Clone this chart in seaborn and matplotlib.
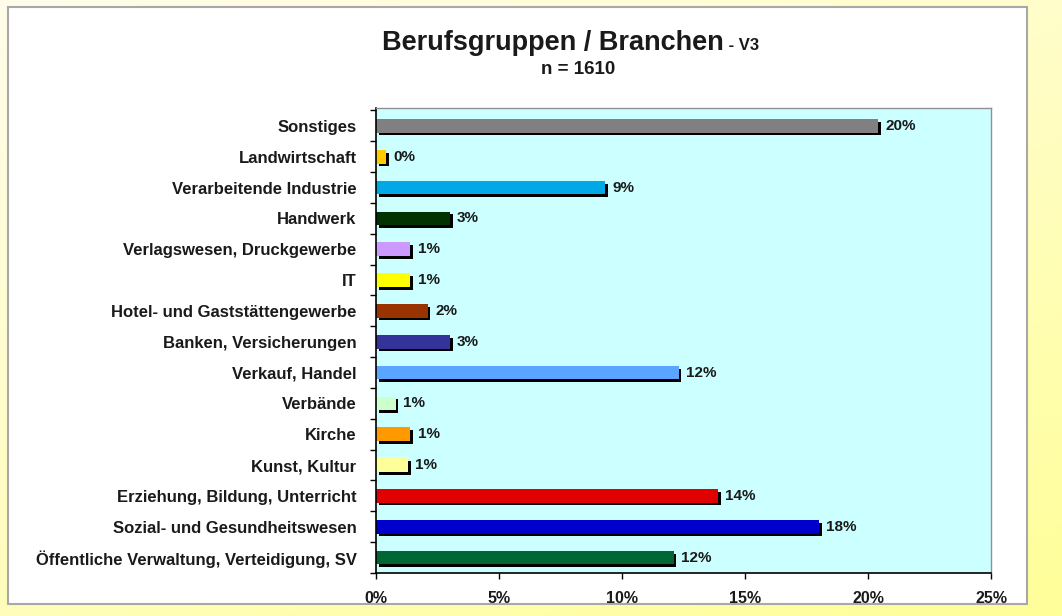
import numpy as np
import matplotlib
matplotlib.use("Agg")
import matplotlib.pyplot as plt
import matplotlib.patheffects as pe
from matplotlib.patches import Rectangle
from matplotlib.ticker import FuncFormatter
import seaborn as sns

# ------------------------------------------------
# Data (percent)
# ------------------------------------------------
categories = [
    "Sonstiges",
    "Landwirtschaft",
    "Verarbeitende Industrie",
    "Handwerk",
    "Verlagswesen, Druckgewerbe",
    "IT",
    "Hotel- und Gaststättengewerbe",
    "Banken, Versicherungen",
    "Verkauf, Handel",
    "Verbände",
    "Kirche",
    "Kunst, Kultur",
    "Erziehung, Bildung, Unterricht",
    "Sozial- und Gesundheitswesen",
    "Öffentliche Verwaltung, Verteidigung, SV",
]
values = [20.4, 0.4, 9.3, 3.0, 1.4, 1.4, 2.1, 3.0, 12.3, 0.8, 1.4, 1.3, 13.9, 18.0, 12.1]
bar_colors = [
    "#808080", "#FFCC00", "#00A8E8", "#003300", "#CC99FF",
    "#FFFF00", "#993300", "#333399", "#5AA5FF", "#CCFFCC",
    "#FF9900", "#FFFF99", "#E00000", "#0000CC", "#006633",
]
x_ticks = [0, 5, 10, 15, 20, 25]

title_main = "Berufsgruppen / Branchen"
title_suffix = " - V3"
subtitle = "n = 1610"

# ------------------------------------------------
# Style
# ------------------------------------------------
sns.set_style("white")
plt.rcParams["font.family"] = ["Liberation Sans", "DejaVu Sans"]
plt.rcParams["font.weight"] = "bold"
text_col = "#1a1a1a"

fig = plt.figure(figsize=(10.62, 6.16), dpi=100)

# slide background (pale yellow gradient)
bg = fig.add_axes([0, 0, 1, 1], zorder=-10)
gx = np.linspace(0, 1, 200)
gy = np.linspace(0, 1, 120)
GX, GY = np.meshgrid(gx, gy)
top = np.array([1.0, 0.99, 0.92])
bottom = np.array([1.0, 1.0, 0.60])
w = np.clip(0.6 * GY + 0.4 * GX, 0, 1)[..., None]
img = top * (1 - w) + bottom * w
bg.imshow(img, extent=[0, 1, 0, 1], aspect="auto", origin="upper")
bg.axis("off")

# white chart panel
fig.patches.append(Rectangle((8 / 1062, 12 / 616), 1019 / 1062, 597 / 616,
                             transform=fig.transFigure, facecolor="white",
                             edgecolor="#A8A8A8", linewidth=1.5, zorder=-5))

ax = fig.add_axes([376 / 1062, 1 - 573 / 616, 615 / 1062, 465 / 616])
ax.set_facecolor("#CCFFFF")

sns.barplot(x=values, y=categories, hue=categories, palette=bar_colors,
            legend=False, orient="h", width=0.44, linewidth=0, saturation=1, ax=ax)

# Excel-like 3D shadow on the bars
for p in ax.patches:
    p.set_path_effects([pe.SimplePatchShadow(offset=(2, -2), shadow_rgbFace="black", alpha=1.0),
                        pe.Normal()])

# value labels
for i, v in enumerate(values):
    ax.text(v + 0.3, i, f"{v:.0f}%", va="center", ha="left",
            fontsize=11, fontweight="bold", color=text_col)

ax.set_xlim(0, 25)
ax.set_ylim(14.5, -0.58)
ax.set_xticks(x_ticks)
ax.xaxis.set_major_formatter(FuncFormatter(lambda v, _: f"{v:.0f}%"))
ax.set_xlabel("")
ax.set_ylabel("")

ax.set_yticks(np.arange(-0.5, len(categories)), minor=True)
ax.tick_params(axis="y", which="major", length=0, pad=14, labelsize=12, labelcolor=text_col)
ax.tick_params(axis="y", which="minor", length=4, width=1, direction="out", color="black", left=True)
ax.tick_params(axis="x", which="major", length=4, width=1, direction="out", color="black",
               bottom=True, pad=9, labelsize=11.5, labelcolor=text_col)
for lbl in ax.get_yticklabels() + ax.get_xticklabels():
    lbl.set_fontweight("bold")

for s in ["left", "bottom"]:
    ax.spines[s].set_color("black")
    ax.spines[s].set_linewidth(1.2)
for s in ["top", "right"]:
    ax.spines[s].set_color("#909090")
    ax.spines[s].set_linewidth(1.0)
ax.grid(False)

# titles
fig.text(724 / 1062, 1 - 43 / 616, title_main, ha="right", va="center",
         fontsize=19.5, fontweight="bold", color=text_col)
fig.text(724 / 1062, 1 - 45 / 616, title_suffix, ha="left", va="center",
         fontsize=12, fontweight="bold", color=text_col)
fig.text(578 / 1062, 1 - 70 / 616, subtitle, ha="center", va="center",
         fontsize=13.5, fontweight="bold", color=text_col)

fig.savefig("out.png", dpi=100)
